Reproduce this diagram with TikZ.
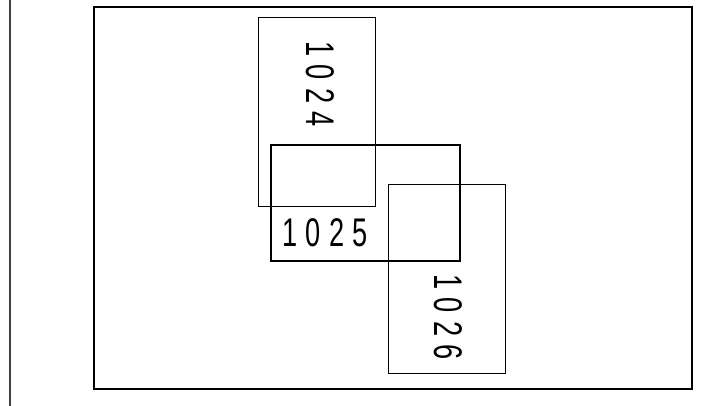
\documentclass[tikz,border=0pt]{standalone}
\usepackage{fontspec}
\setmainfont{Liberation Sans}
\newcommand{\lotnum}[1]{\scalebox{0.68}[1]{\fontsize{40}{40}\selectfont\addfontfeature{LetterSpace=30}#1}}
\begin{document}
\begin{tikzpicture}[x=1pt,y=-1pt,line join=miter]
			\path[use as bounding box](0,0)rectangle(702,406);
			\draw[line width=1.5pt,black!75](10,0)--(10,406);
			\draw[line width=1.2pt](94,7)rectangle(692,389);
			\draw[line width=0.8pt](258,17)rectangle(375,206);
			\draw[line width=0.8pt](388,184)rectangle(505,373);
			\draw[line width=2.6pt](271,145)rectangle(460,261);
			\node[rotate=-90,inner sep=0](n1024)at(320,84){\lotnum{1024}};
			\node[inner sep=0](n1025)at(325,233){\lotnum{1025}};
			\node[rotate=-90,inner sep=0](n1026)at(448,317){\lotnum{1026}};
		\end{tikzpicture}
\end{document}
